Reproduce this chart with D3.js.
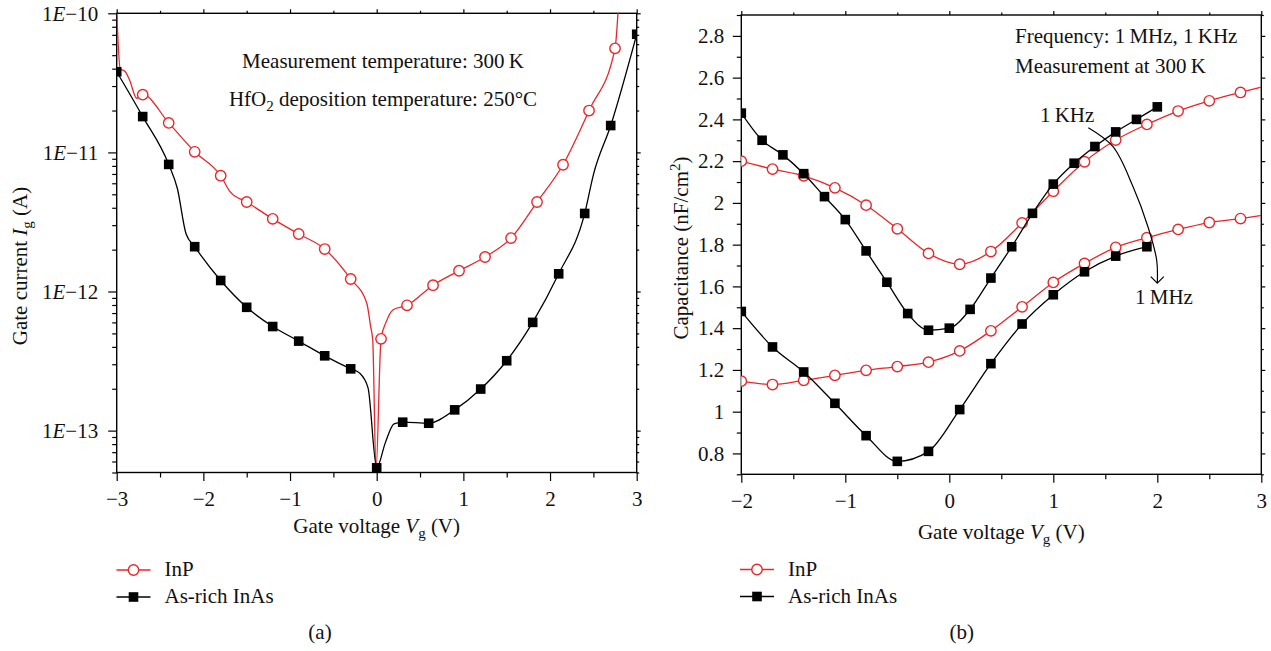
<!DOCTYPE html>
<html><head><meta charset="utf-8">
<script src="https://cdn.jsdelivr.net/npm/d3@7"></script>
<style>
body{margin:0;background:#fff;}
svg{display:block;font-family:"Liberation Serif","Times New Roman",serif;}
.ax path.domain{display:none;}
.ax line{stroke:#000;stroke-width:1.2;}
.ax text{font-family:"Liberation Serif",serif;font-size:21px;fill:#111;}
</style></head><body>
<svg id="c" width="1271" height="651"></svg>
<script>
// ---------- Panel (a): gate current (A) vs gate voltage (V) ----------
const aInpMarkV = [-2.7,-2.4,-2.1,-1.8,-1.5,-1.2,-0.9,-0.6,-0.3,0.05,0.35,0.65,0.95,1.25,1.55,1.85,2.15,2.45,2.75];
const aInpMarkI = [2.6e-11,1.63e-11,1.01e-11,6.8e-12,4.4e-12,3.33e-12,2.59e-12,2.02e-12,1.23e-12,4.57e-13,7.96e-13,1.11e-12,1.41e-12,1.77e-12,2.42e-12,4.4e-12,8.15e-12,2.0e-11,5.6e-11];
const aInpLineV = [-3.0,-2.96,-2.9,-2.85,-2.77,-2.7,-2.4,-2.1,-1.8,-1.69,-1.5,-1.2,-0.9,-0.6,-0.3,-0.115,-0.07,-0.046,-0.008,0.05,0.107,0.19,0.35,0.65,0.95,1.25,1.55,1.85,2.15,2.45,2.75,2.8];
const aInpLineI = [1.05e-10,4.0e-11,3.8e-11,3.3e-11,2.45e-11,2.6e-11,1.63e-11,1.01e-11,6.8e-12,5.2e-12,4.4e-12,3.33e-12,2.59e-12,2.02e-12,1.23e-12,8.26e-13,5.6e-13,4.5e-13,5.2e-14,4.57e-13,6.0e-13,7.4e-13,7.96e-13,1.11e-12,1.41e-12,1.77e-12,2.42e-12,4.4e-12,8.15e-12,2.0e-11,5.6e-11,1.5e-10];

const aInasMarkV = [-3.0,-2.7,-2.4,-2.1,-1.8,-1.5,-1.2,-0.9,-0.6,-0.3,0.0,0.3,0.6,0.9,1.2,1.5,1.8,2.1,2.4,2.7,3.0];
const aInasMarkI = [3.8e-11,1.81e-11,8.2e-12,2.1e-12,1.2e-12,7.7e-13,5.6e-13,4.4e-13,3.45e-13,2.78e-13,5.4e-14,1.15e-13,1.13e-13,1.41e-13,1.99e-13,3.18e-13,6.0e-13,1.34e-12,3.64e-12,1.56e-11,7.07e-11];
const aInasLineV = [-3.0,-2.7,-2.4,-2.3,-2.2,-2.1,-1.8,-1.5,-1.2,-0.9,-0.6,-0.3,-0.2,-0.1,0.0,0.1,0.2,0.3,0.6,0.9,1.2,1.5,1.8,2.1,2.4,2.5,2.7,3.0];
const aInasLineI = [3.8e-11,1.81e-11,8.2e-12,5.5e-12,2.6e-12,2.1e-12,1.2e-12,7.7e-13,5.6e-13,4.4e-13,3.45e-13,2.78e-13,2.6e-13,2.03e-13,5.4e-14,8.2e-14,1.12e-13,1.15e-13,1.13e-13,1.41e-13,1.99e-13,3.18e-13,6.0e-13,1.34e-12,3.64e-12,6.9e-12,1.56e-11,7.07e-11];

const aXTicks = [-3,-2,-1,0,1,2,3];
const aYTicks = [1e-13,1e-12,1e-11,1e-10];
const aYTickExp = ["13","12","11","10"];

// ---------- Panel (b): capacitance (nF/cm2) vs gate voltage (V) ----------
const bInpV = [-2,-1.7,-1.4,-1.1,-0.8,-0.5,-0.2,0.1,0.4,0.7,1.0,1.3,1.6,1.9,2.2,2.5,2.8];
const bInpKHz = [2.20,2.162,2.13,2.072,1.989,1.876,1.758,1.706,1.767,1.904,2.056,2.197,2.301,2.376,2.44,2.489,2.529];
const bInpMHz = [1.146,1.130,1.150,1.174,1.198,1.216,1.237,1.291,1.387,1.502,1.619,1.71,1.787,1.833,1.873,1.906,1.925];
const bInpLineEndV = 3.0;
const bInpKHzEnd = 2.555;
const bInpMHzEnd = 1.94;

const bInasKHzV = [-2,-1.8,-1.6,-1.4,-1.2,-1.0,-0.8,-0.6,-0.4,-0.2,0,0.2,0.4,0.6,0.8,1.0,1.2,1.4,1.6,1.8,2.0];
const bInasKHz = [2.43,2.30,2.23,2.14,2.03,1.92,1.77,1.62,1.47,1.39,1.40,1.49,1.64,1.79,1.95,2.09,2.19,2.27,2.34,2.40,2.46];
const bInasMHzV = [-2,-1.7,-1.4,-1.1,-0.8,-0.5,-0.2,0.1,0.4,0.7,1.0,1.3,1.6,1.9];
const bInasMHz = [1.48,1.31,1.19,1.04,0.885,0.762,0.81,1.01,1.23,1.42,1.56,1.67,1.745,1.79];

const bXTicks = [-2,-1,0,1,2,3];
const bYTicks = [0.8,1.0,1.2,1.4,1.6,1.8,2.0,2.2,2.4,2.6,2.8];

// arrow annotation path (data coordinates of panel b)
const arrowV = [1.337,1.574,1.766,1.91,1.994,2.0];
const arrowC = [2.36,2.269,2.078,1.886,1.726,1.616];

const RED = "#e8262b";
const FS = 21, SUB = 15;
const svg = d3.select("#c");

// scales
const xa = d3.scaleLinear([-3,3],[116.7,636.7]);
const ya = d3.scaleLog([5e-14,1e-10],[472.5,13.3]);
const xb = d3.scaleLinear([-2,3],[741.3,1261.3]);
const yb = d3.scaleLinear([0.7,2.9],[474.3,15]);

function frame(x, y, id){
  const [x0,x1] = x.range(), [y0,y1] = y.range();
  svg.append("clipPath").attr("id",id).append("rect")
    .attr("x",x0).attr("y",y1).attr("width",x1-x0).attr("height",y0-y1);
  return {x0,x1,y0,y1};
}
const fa = frame(xa, ya, "clipA");
const fb = frame(xb, yb, "clipB");

function axes(x, y, f, xMinor, yMinor, xMaj, yMaj, xPad, yPad, yFmt){
  const g = svg.append("g");
  g.append("g").attr("class","ax").attr("transform",`translate(0,${f.y0})`)
    .call(d3.axisBottom(x).tickValues(xMaj).tickSize(8.5).tickSizeOuter(0).tickPadding(xPad).tickFormat(d3.format("d")));
  g.append("g").attr("class","ax").attr("transform",`translate(0,${f.y0})`)
    .call(d3.axisBottom(x).tickValues(xMinor).tickSize(5).tickSizeOuter(0).tickFormat(""));
  g.append("g").attr("class","ax").attr("transform",`translate(0,${f.y1})`)
    .call(d3.axisTop(x).tickValues(xMaj).tickSize(4).tickSizeOuter(0).tickFormat(""));
  g.append("g").attr("class","ax").attr("transform",`translate(0,${f.y1})`)
    .call(d3.axisTop(x).tickValues(xMinor).tickSize(2.5).tickSizeOuter(0).tickFormat(""));
  const la = g.append("g").attr("class","ax").attr("transform",`translate(${f.x0},0)`)
    .call(d3.axisLeft(y).tickValues(yMaj).tickSize(8.5).tickSizeOuter(0).tickPadding(yPad).tickFormat(yFmt || (()=>"")));
  g.append("g").attr("class","ax").attr("transform",`translate(${f.x0},0)`)
    .call(d3.axisLeft(y).tickValues(yMinor).tickSize(4.5).tickSizeOuter(0).tickFormat(""));
  g.append("g").attr("class","ax").attr("transform",`translate(${f.x1},0)`)
    .call(d3.axisRight(y).tickValues(yMaj).tickSize(4).tickSizeOuter(0).tickFormat(""));
  g.append("g").attr("class","ax").attr("transform",`translate(${f.x1},0)`)
    .call(d3.axisRight(y).tickValues(yMinor).tickSize(2.5).tickSizeOuter(0).tickFormat(""));
  g.append("rect").attr("x",f.x0).attr("y",f.y1).attr("width",f.x1-f.x0).attr("height",f.y0-f.y1)
    .attr("fill","none").attr("stroke","#000").attr("stroke-width",1.4);
  return la;
}

// ---- panel a axes
const aXMinor = d3.range(-2.5,3,1);
const aYMinor = [];
for (let d=-14; d<=-11; d++) for (let k=2;k<=9;k++){ const v=k*Math.pow(10,d); if(v>=5e-14 && v<1e-10) aYMinor.push(v); }
const laA = axes(xa, ya, fa, aXMinor, aYMinor, aXTicks, aYTicks, 10, 10, ()=>"");
laA.selectAll(".tick text").each(function(d){
  const t = d3.select(this); t.text(null);
  t.append("tspan").text("1");
  t.append("tspan").attr("font-style","italic").text("E");
  t.append("tspan").text("\u2212" + aYTickExp[aYTicks.indexOf(d)]);
});

// ---- panel b axes
const bXMinor = d3.range(-1.5,3,1);
const bYMinor = d3.range(0.7,2.95,0.1).map(v=>+v.toFixed(1)).filter(v=>!bYTicks.some(t=>Math.abs(t-v)<1e-6));
axes(xb, yb, fb, bXMinor, bYMinor, bXTicks, bYTicks, 10, 8.5, d=>String(+d.toFixed(1)));

// ---- series drawing
function series(x, y, clip, vs, ys, color, shape, markVs, markYs){
  const line = d3.line().x((d,i)=>x(vs[i])).y((d,i)=>y(ys[i])).curve(d3.curveMonotoneX);
  const g = svg.append("g").attr("clip-path",`url(#${clip})`);
  g.append("path").attr("d", line(vs)).attr("fill","none").attr("stroke",color).attr("stroke-width",1.3);
  const pts = markVs.map((v,i)=>[x(v), y(markYs[i])]);
  if (shape==="circle"){
    g.selectAll(null).data(pts).join("circle").attr("cx",d=>d[0]).attr("cy",d=>d[1]).attr("r",5.2)
      .attr("fill","#fff").attr("stroke",color).attr("stroke-width",1.4);
  } else {
    g.selectAll(null).data(pts).join("rect").attr("x",d=>d[0]-4.8).attr("y",d=>d[1]-4.8)
      .attr("width",9.6).attr("height",9.6).attr("fill","#000");
  }
}
series(xa, ya, "clipA", aInpLineV, aInpLineI, RED, "circle", aInpMarkV, aInpMarkI);
series(xa, ya, "clipA", aInasLineV, aInasLineI, "#000", "square", aInasMarkV, aInasMarkI);

series(xb, yb, "clipB", bInpV.concat([bInpLineEndV]), bInpKHz.concat([bInpKHzEnd]), RED, "circle", bInpV, bInpKHz);
series(xb, yb, "clipB", bInpV.concat([bInpLineEndV]), bInpMHz.concat([bInpMHzEnd]), RED, "circle", bInpV, bInpMHz);
series(xb, yb, "clipB", bInasKHzV, bInasKHz, "#000", "square", bInasKHzV, bInasKHz);
series(xb, yb, "clipB", bInasMHzV, bInasMHz, "#000", "square", bInasMHzV, bInasMHz);

// ---- arrow annotation
const arrowLine = d3.line().x((d,i)=>xb(arrowV[i])).y((d,i)=>yb(arrowC[i])).curve(d3.curveCatmullRom);
svg.append("path").attr("d", arrowLine(arrowV)).attr("fill","none").attr("stroke","#000").attr("stroke-width",1.2);
const ex = xb(arrowV[arrowV.length-1]), ey = yb(arrowC[arrowC.length-1]);
svg.append("path").attr("d",`M${ex-6.5},${ey-6.5}L${ex},${ey}L${ex+6.5},${ey-6.5}`)
  .attr("fill","none").attr("stroke","#000").attr("stroke-width",1.2);

// ---- texts
const T = (x,y,anchor)=> svg.append("text").attr("x",x).attr("y",y).attr("text-anchor",anchor||"start")
  .attr("font-size",FS).attr("fill","#111");
const TS = "\u2009";

T(383,68,"middle").text("Measurement temperature: 300"+TS+"K");
{ const t=T(383,106,"middle"); t.append("tspan").text("HfO");
  t.append("tspan").attr("font-size",SUB).attr("dy",5).text("2");
  t.append("tspan").attr("dy",-5).text(" deposition temperature: 250°C"); }

T(1015,43).text("Frequency: 1"+TS+"MHz, 1"+TS+"KHz");
T(1015,73).text("Measurement at 300"+TS+"K");
T(1040,122).text("1"+TS+"KHz");
T(1135,304).text("1"+TS+"MHz");

function xTitle(cx, y){
  const t = T(cx,y,"middle");
  t.append("tspan").text("Gate voltage ");
  t.append("tspan").attr("font-style","italic").text("V");
  t.append("tspan").attr("font-size",SUB).attr("dy",5).text("g");
  t.append("tspan").attr("dy",-5).text(" (V)");
}
xTitle(376.7, 533);
xTitle(1001.3, 538.5);

{ const t = svg.append("text").attr("transform","translate(27,266) rotate(-90)").attr("text-anchor","middle")
    .attr("font-size",FS).attr("fill","#111");
  t.append("tspan").text("Gate current ");
  t.append("tspan").attr("font-style","italic").text("I");
  t.append("tspan").attr("font-size",SUB).attr("dy",5).text("g");
  t.append("tspan").attr("dy",-5).text(" (A)"); }
{ const t = svg.append("text").attr("transform","translate(688,248) rotate(-90)").attr("text-anchor","middle")
    .attr("font-size",FS).attr("fill","#111");
  t.append("tspan").text("Capacitance (nF/cm");
  t.append("tspan").attr("font-size",SUB).attr("dy",-8).text("2");
  t.append("tspan").attr("dy",8).text(")"); }

// ---- legends
const legendNames = ["InP","As-rich InAs"];
const legendColors = [RED,"#000"];
const legendShapes = ["circle","square"];
function legend(x0, y0){
  legendNames.forEach((name,i)=>{
    const y = y0 + i*27;
    svg.append("line").attr("x1",x0).attr("x2",x0+34).attr("y1",y).attr("y2",y).attr("stroke",legendColors[i]).attr("stroke-width",1.3);
    if (legendShapes[i]==="circle")
      svg.append("circle").attr("cx",x0+17).attr("cy",y).attr("r",5.2).attr("fill","#fff").attr("stroke",RED).attr("stroke-width",1.4);
    else
      svg.append("rect").attr("x",x0+17-4.8).attr("y",y-4.8).attr("width",9.6).attr("height",9.6).attr("fill","#000");
    T(x0+48, y+6).text(name);
  });
}
legend(116.5, 570);
legend(740, 569.5);

T(320, 639, "middle").text("(a)");
T(961.7, 639, "middle").text("(b)");
</script>
</body></html>
